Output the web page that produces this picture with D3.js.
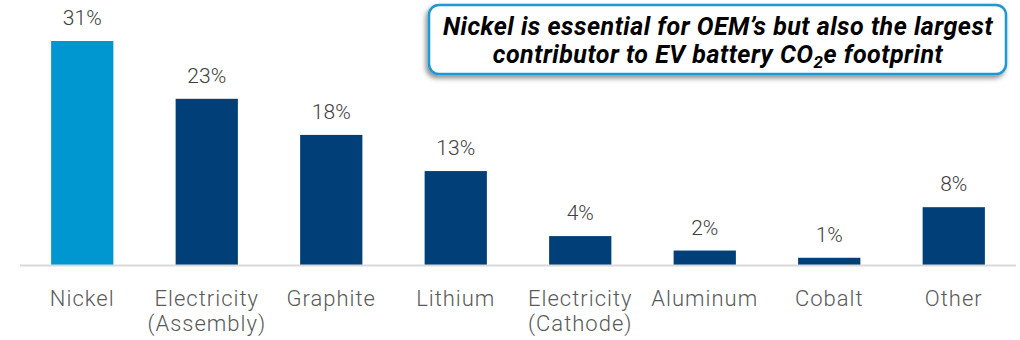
<!DOCTYPE html>
<html>
<head>
<meta charset="utf-8">
<script src="https://cdn.jsdelivr.net/npm/d3@7"></script>
<style>
  html, body { margin: 0; padding: 0; background: #fff; }
  svg { display: block; }
</style>
</head>
<body>
<svg id="chart" width="1020" height="340"></svg>
<script>
// Share of EV battery CO2e footprint by contributor
const categories = ["Nickel", "Electricity\n(Assembly)", "Graphite", "Lithium",
                    "Electricity\n(Cathode)", "Aluminum", "Cobalt", "Other"];
const values = [31, 23, 18, 13, 4, 2, 1, 8];
const highlight = "Nickel";
const titleLines = ["Nickel is essential for OEM\u2019s but also the largest",
                    "contributor to EV battery CO", "e footprint"];

const svg = d3.select("#chart");
const baseY = 265;

const x = d3.scaleBand()
  .domain(categories)
  .range([20, 1016])
  .paddingInner(0.5)
  .paddingOuter(0.25);

const y = d3.scaleLinear()
  .domain([0, 31])
  .range([baseY, 41]);

const labelFont = "Roboto, 'Open Sans', sans-serif";

// Bars
svg.append("g").selectAll("rect")
  .data(values)
  .join("rect")
  .attr("x", (d, i) => x(categories[i]))
  .attr("y", d => y(d))
  .attr("width", x.bandwidth())
  .attr("height", d => baseY - y(d))
  .attr("fill", (d, i) => categories[i] === highlight ? "#0096d0" : "#003f77");

// Baseline
svg.append("line")
  .attr("x1", 20).attr("x2", 1016)
  .attr("y1", baseY + 0.5).attr("y2", baseY + 0.5)
  .attr("stroke", "#d9d9d9").attr("stroke-width", 2);

// Value labels
svg.append("g").selectAll("text")
  .data(values)
  .join("text")
  .attr("x", (d, i) => x(categories[i]) + x.bandwidth() / 2)
  .attr("y", d => y(d) - 16)
  .attr("text-anchor", "middle")
  .attr("font-family", labelFont)
  .attr("font-weight", 300)
  .attr("font-size", 21)
  .attr("fill", "#404040")
  .text(d => d + "%");

// Category labels
const catG = svg.append("g");
categories.forEach(c => {
  const t = catG.append("text")
    .attr("x", x(c) + x.bandwidth() / 2)
    .attr("y", 306)
    .attr("text-anchor", "middle")
    .attr("font-family", labelFont)
    .attr("font-weight", 300)
    .attr("font-size", 22)
    .attr("letter-spacing", 1)
    .attr("fill", "#595959");
  c.split("\n").forEach((line, j) => {
    t.append("tspan")
      .attr("x", x(c) + x.bandwidth() / 2)
      .attr("dy", j === 0 ? 0 : 25)
      .text(line);
  });
});

// Callout box
const defs = svg.append("defs");
const f = defs.append("filter").attr("id", "shadow")
  .attr("x", "-10%").attr("y", "-20%").attr("width", "120%").attr("height", "150%");
f.append("feDropShadow")
  .attr("dx", -2).attr("dy", 3).attr("stdDeviation", 2.5)
  .attr("flood-color", "#000").attr("flood-opacity", 0.45);

svg.append("rect")
  .attr("x", 429).attr("y", 5)
  .attr("width", 577).attr("height", 69)
  .attr("rx", 10).attr("ry", 10)
  .attr("fill", "#fff")
  .attr("stroke", "#1f98d5")
  .attr("stroke-width", 2.5)
  .attr("filter", "url(#shadow)");

const titleFont = "Roboto, 'Noto Sans', sans-serif";
const cx = 718;
svg.append("text")
  .attr("x", cx).attr("y", 35)
  .attr("text-anchor", "middle")
  .attr("font-family", titleFont)
  .attr("font-weight", 700)
  .attr("font-style", "italic")
  .attr("font-size", 25)
  .attr("letter-spacing", 0.5)
  .attr("fill", "#000")
  .text(titleLines[0]);

const t2 = svg.append("text")
  .attr("x", cx).attr("y", 63)
  .attr("text-anchor", "middle")
  .attr("font-family", titleFont)
  .attr("font-weight", 700)
  .attr("font-style", "italic")
  .attr("font-size", 25)
  .attr("letter-spacing", 0.5)
  .attr("fill", "#000");
t2.append("tspan").text(titleLines[1]);
t2.append("tspan").attr("dy", 5).attr("font-size", 17).text("2");
t2.append("tspan").attr("dy", -5).text(titleLines[2]);
</script>
</body>
</html>
